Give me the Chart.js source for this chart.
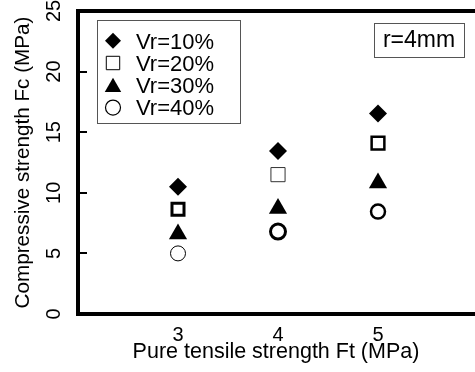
<!DOCTYPE html>
<html>
<head>
<meta charset="utf-8">
<style>
  html, body { margin: 0; padding: 0; background: #fff; }
  #wrap { width: 475px; height: 372px; }
</style>
<script src="https://cdn.jsdelivr.net/npm/chart.js@4.4.1/dist/chart.umd.min.js"></script>
</head>
<body>
<div id="wrap"><canvas id="c" width="475" height="372"></canvas></div>
<script>
// Pure tensile strength Ft (MPa) at which each mix was tested
const ftValues = [3, 4, 5];
const xTickValues = [3, 4, 5];
const yTickValues = [0, 5, 10, 15, 20, 25];

// Compressive strength Fc (MPa) for each rubber volume ratio
const seriesLabels = ['Vr=10%', 'Vr=20%', 'Vr=30%', 'Vr=40%'];
const fcVr10 = [10.5, 13.45, 16.55];
const fcVr20 = [8.65, 11.5, 14.1];
const fcVr30 = [6.6, 8.7, 10.8];
const fcVr40 = [5.0, 6.8, 8.45];

const noteText = 'r=4mm';

const FONT = "'Liberation Sans', Arial, sans-serif";

const toPoints = ys => ftValues.map((x, i) => ({ x: x, y: ys[i] }));

// keep the plot frame exactly where the axes are fitted
const noEdgePadding = s => {
  s.paddingTop = 0; s.paddingBottom = 0; s.paddingLeft = 0; s.paddingRight = 0;
};

// Legend drawn inside the plot frame, upper left
const legendBox = {
  id: 'legendBox',
  afterDatasetsDraw(chart) {
    const ctx = chart.ctx;
    const a = chart.chartArea;
    const bx = a.left + 19, by = a.top + 9, bw = 143, bh = 103;
    ctx.save();
    ctx.fillStyle = '#fff';
    ctx.fillRect(bx, by, bw, bh);
    ctx.strokeStyle = '#555';
    ctx.lineWidth = 1;
    ctx.strokeRect(bx + 0.5, by + 0.5, bw, bh);
    const markers = [
      { pointStyle: 'rectRot', radius: 8, borderWidth: 0, fill: '#000' },
      { pointStyle: 'rect', radius: 9.5, borderWidth: 1, fill: '#fff' },
      { pointStyle: 'triangle', radius: 9.5, borderWidth: 0, fill: '#000' },
      { pointStyle: 'circle', radius: 7.5, borderWidth: 1.2, fill: '#fff' }
    ];
    chart.data.datasets.forEach((ds, i) => {
      const cy = by + 20.7 + i * 22.3;
      const m = markers[i];
      ctx.fillStyle = m.fill;
      ctx.strokeStyle = '#000';
      ctx.lineWidth = m.borderWidth;
      Chart.helpers.drawPoint(ctx, { pointStyle: m.pointStyle, radius: m.radius, borderWidth: m.borderWidth, rotation: 0 }, bx + 16, i === 2 ? cy + 2 : cy);
      ctx.fillStyle = '#000';
      ctx.font = '22px ' + FONT;
      ctx.textAlign = 'left';
      ctx.textBaseline = 'alphabetic';
      ctx.fillText(ds.label, bx + 39, cy + 7.8);
    });
    ctx.restore();
  }
};

// Boxed note in the upper right corner of the plot
const noteBox = {
  id: 'noteBox',
  afterDatasetsDraw(chart) {
    const ctx = chart.ctx;
    const a = chart.chartArea;
    const bx = a.right - 100, by = a.top + 12, bw = 90, bh = 34;
    ctx.save();
    ctx.fillStyle = '#fff';
    ctx.fillRect(bx, by, bw, bh);
    ctx.strokeStyle = '#555';
    ctx.lineWidth = 1;
    ctx.strokeRect(bx + 0.5, by + 0.5, bw, bh);
    ctx.fillStyle = '#000';
    ctx.font = '23px ' + FONT;
    ctx.textAlign = 'center';
    ctx.textBaseline = 'alphabetic';
    ctx.fillText(noteText, bx + bw / 2, by + 24);
    ctx.restore();
  }
};

new Chart(document.getElementById('c'), {
  type: 'scatter',
  data: {
    datasets: [
      {
        label: seriesLabels[0], data: toPoints(fcVr10),
        pointStyle: 'rectRot', pointRadius: 9, backgroundColor: '#000',
        borderColor: '#000', borderWidth: 0
      },
      {
        label: seriesLabels[1], data: toPoints(fcVr20),
        pointStyle: 'rect', pointRadius: [8.5, 10, 9], backgroundColor: '#fff',
        borderColor: ['#000', '#333', '#000'], borderWidth: [3, 1, 2.5]
      },
      {
        label: seriesLabels[2], data: toPoints(fcVr30),
        pointStyle: 'triangle', pointRadius: 10.5, backgroundColor: '#000',
        borderColor: '#000', borderWidth: 0
      },
      {
        label: seriesLabels[3], data: toPoints(fcVr40),
        pointStyle: 'circle', pointRadius: [7.5, 7.5, 7], backgroundColor: '#fff',
        borderColor: '#000', borderWidth: [1, 3, 2.5]
      }
    ]
  },
  options: {
    responsive: false,
    devicePixelRatio: 1,
    animation: false,
    events: [],
    layout: { autoPadding: false, padding: { left: 0, right: 1, top: 0, bottom: 0 } },
    plugins: { legend: { display: false }, tooltip: { enabled: false } },
    scales: {
      x: {
        type: 'linear', position: 'bottom', min: 2, max: 5.96,
        afterBuildTicks: s => { s.ticks = xTickValues.map(v => ({ value: v })); },
        afterFit: s => { s.height = 58; noEdgePadding(s); },
        ticks: { color: '#000', font: { family: FONT, size: 20 }, padding: 9 },
        grid: { display: false, drawTicks: false },
        border: { display: true, color: '#000', width: 4 },
        title: {
          display: true, text: 'Pure tensile strength Ft (MPa)', color: '#000',
          font: { family: FONT, size: 21.5 }, padding: { top: 0, bottom: 7 }
        }
      },
      xTop: {
        type: 'linear', position: 'top', min: 2, max: 5.96,
        afterFit: s => { s.height = 11; noEdgePadding(s); },
        ticks: { display: false },
        grid: { display: false, drawTicks: false },
        border: { display: true, color: '#000', width: 4 }
      },
      y: {
        type: 'linear', position: 'left', min: 0, max: 25,
        afterBuildTicks: s => { s.ticks = yTickValues.map(v => ({ value: v })); },
        afterFit: s => { s.width = 78; noEdgePadding(s); },
        ticks: {
          color: '#000', font: { family: FONT, size: 20 },
          minRotation: 90, maxRotation: 90, crossAlign: 'center', padding: 21
        },
        grid: { drawOnChartArea: false, drawTicks: true, tickLength: -9, lineWidth: 2, color: '#000' },
        border: { display: true, color: '#000', width: 4 },
        title: {
          display: true, text: 'Compressive strength Fc (MPa)', color: '#000',
          font: { family: FONT, size: 20.7 }, padding: { top: 10.5, bottom: 0 }
        }
      }
    }
  },
  plugins: [legendBox, noteBox]
});
</script>
</body>
</html>
